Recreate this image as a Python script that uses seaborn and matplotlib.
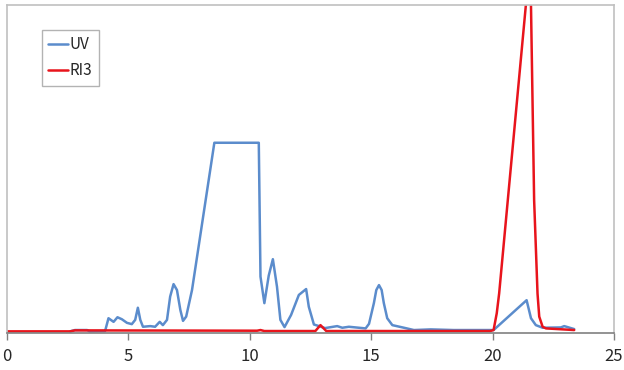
import numpy as np
import pandas as pd
import seaborn as sns
import matplotlib.pyplot as plt
from matplotlib.lines import Line2D

# ----- Chromatogram data (time, signal in % of plot height) -----
uv_time = [2.6, 2.8, 3.3, 3.4, 4.0, 4.04, 4.18, 4.39, 4.55, 4.73, 4.94, 5.14, 5.28, 5.39,
           5.49, 5.6, 5.9, 6.1, 6.29, 6.42, 6.59, 6.72, 6.86, 7.0, 7.14, 7.25, 7.38, 7.62,
           8.54, 10.37, 10.44, 10.6, 10.78, 10.95, 11.12, 11.26, 11.43, 11.7, 12.02, 12.32,
           12.43, 12.64, 13.1, 13.6, 13.81, 14.08, 14.77, 14.91, 15.11, 15.21, 15.32, 15.43,
           15.52, 15.66, 15.87, 16.35, 16.76, 17.45, 18.4, 20.04, 21.4, 21.58, 21.78, 22.06,
           22.81, 22.95, 23.36]
uv_signal = [0.5, 0.9, 0.9, 0.5, 0.6, 0.6, 4.5, 3.4, 4.8, 4.2, 3.1, 2.7, 4.0, 7.7,
             4.0, 1.9, 2.1, 1.9, 3.4, 2.4, 4.0, 11.1, 14.9, 13.1, 7.0, 3.7, 5.0, 13.1,
             58.0, 58.0, 17.2, 9.1, 17.5, 22.5, 14.1, 4.0, 1.8, 5.5, 11.6, 13.4,
             8.0, 2.6, 1.5, 2.1, 1.6, 1.9, 1.4, 2.8, 9.1, 13.1, 14.6, 13.1,
             9.1, 4.5, 2.4, 1.6, 0.9, 1.1, 0.9, 0.9, 10.0, 4.5, 2.4, 1.6,
             1.7, 2.1, 1.2]

ri3_time = [0.0, 2.6, 2.8, 10.3, 10.44, 10.6, 12.7, 12.91, 13.15, 19.9, 20.04, 20.17,
            20.27, 21.37, 21.47, 21.58, 21.71, 21.85, 21.92, 22.06, 22.2, 23.36]
ri3_signal = [0.5, 0.5, 0.8, 0.7, 0.9, 0.6, 0.6, 2.4, 0.6, 0.6, 0.9, 6.0,
              12.1, 100.0, 104.0, 100.0, 40.5, 12.0, 5.0, 1.9, 1.4, 0.9]

series_names = ["UV", "RI3"]
colors = ["#5b8ccc", "#e8141c"]

df = pd.concat([
    pd.DataFrame({"time": uv_time, "signal": uv_signal, "series": "UV"}),
    pd.DataFrame({"time": ri3_time, "signal": ri3_signal, "series": "RI3"}),
])

# ----- Plot -----
sns.set_style("white")
plt.rcParams['font.family'] = ['Noto Sans CJK JP', 'DejaVu Sans']

fig = plt.figure(figsize=(6.24, 3.70), dpi=100)
ax = fig.add_axes([0.0112, 0.1, 0.9728, 0.8865])

sns.lineplot(data=df, x="time", y="signal", hue="series", hue_order=series_names,
             palette=colors, estimator=None, sort=False, linewidth=1.8, ax=ax, legend=False)

ax.set_xlim(0, 25)
ax.set_ylim(0, 100)
ax.set_xticks([0, 5, 10, 15, 20, 25])
ax.set_yticks([])
ax.set_xlabel("")
ax.set_ylabel("")
ax.tick_params(axis='x', direction='out', length=5, width=1, color='#808080',
               labelsize=12, pad=6, bottom=True)

for side in ['top', 'left', 'right']:
    ax.spines[side].set_color('#c0c0c0')
    ax.spines[side].set_linewidth(1.2)
ax.spines['bottom'].set_color('#808080')
ax.spines['bottom'].set_linewidth(1.2)

handles = [Line2D([0], [0], color=c, lw=1.8) for c in colors]
leg = ax.legend(handles, series_names, loc='upper left', bbox_to_anchor=(0.057, 0.925),
                fontsize=11, frameon=True, fancybox=False, handlelength=1.25,
                handletextpad=0.15, borderpad=0.45, labelspacing=0.55, borderaxespad=0)
leg.get_frame().set_edgecolor('#a0a0a0')
leg.get_frame().set_linewidth(1.0)

fig.savefig("out.png", dpi=100)
